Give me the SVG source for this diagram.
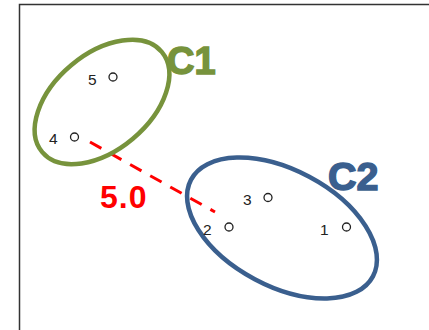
<svg xmlns="http://www.w3.org/2000/svg" width="429" height="330" viewBox="0 0 429 330">
<style>
.lbl{font-family:"Liberation Sans",Arial,sans-serif;font-size:15.5px;fill:#222}
.pt{fill:#fff;stroke:#222;stroke-width:1.3}
.cl{font-family:"Liberation Sans",Arial,sans-serif;font-weight:bold}
</style>
<rect x="0" y="0" width="429" height="330" fill="#fff"/>
<rect x="19.5" y="4.5" width="420" height="340" fill="none" stroke="#333" stroke-width="1.5"/>
<g id="connectors">
<line x1="90" y1="142" x2="215" y2="212" stroke="#f00" stroke-width="3" stroke-dasharray="13 10"/>
<text x="100" y="208" class="cl" font-size="32" fill="#f00" letter-spacing="1">5.0</text>
</g>
<g id="C1">
<ellipse cx="102" cy="102" rx="78" ry="48" transform="rotate(-40 102 102)" fill="none" stroke="#77933C" stroke-width="4.5"/>
<text x="167" y="74" class="cl" font-size="38" fill="#77933C" stroke="#77933C" stroke-width="1.5">C1</text>
</g>
<g id="C2">
<ellipse cx="282" cy="228" rx="103" ry="58" transform="rotate(28 282 228)" fill="none" stroke="#3A5F8E" stroke-width="4.5"/>
<text x="328" y="190" class="cl" font-size="39.5" fill="#3A5F8E" stroke="#3A5F8E" stroke-width="1.5">C2</text>
</g>
<g id="p5"><text x="88" y="85" class="lbl">5</text><circle cx="113" cy="77" r="4" class="pt"/></g>
<g id="p4"><text x="49" y="144" class="lbl">4</text><circle cx="74.5" cy="137" r="4" class="pt"/></g>
<g id="p3"><text x="243" y="205" class="lbl">3</text><circle cx="268" cy="197.5" r="4" class="pt"/></g>
<g id="p2"><text x="203" y="235" class="lbl">2</text><circle cx="229" cy="227" r="4" class="pt"/></g>
<g id="p1"><text x="320" y="235" class="lbl">1</text><circle cx="346.5" cy="227" r="4" class="pt"/></g>
</svg>
